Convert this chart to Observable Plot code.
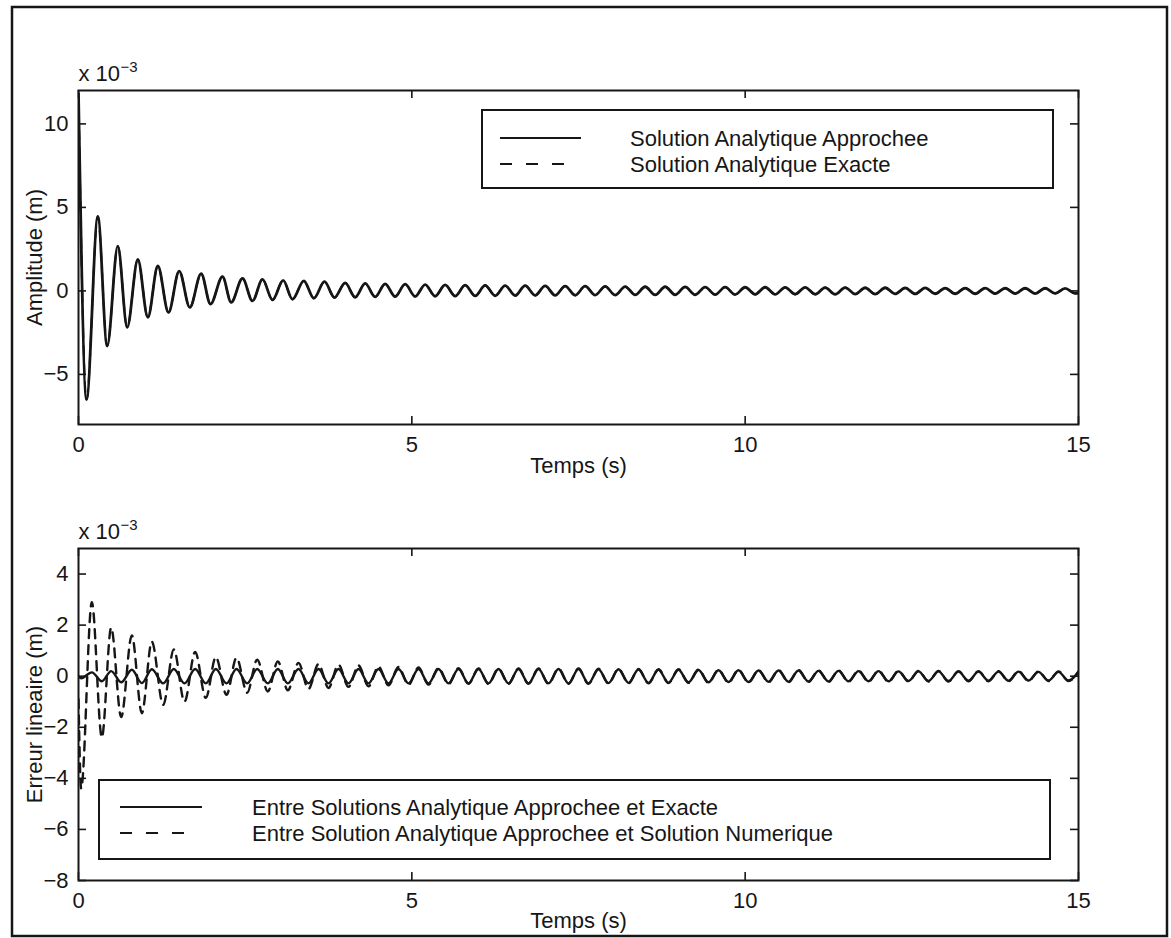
<!DOCTYPE html>
<html><head><meta charset="utf-8">
<script src="https://cdn.jsdelivr.net/npm/d3@7"></script>
<script src="https://cdn.jsdelivr.net/npm/@observablehq/plot@0.6"></script>
<style>
body{margin:0;background:#fff;}
#wrap{position:relative;width:1171px;height:938px;overflow:hidden;font-family:"Liberation Sans",Arial,sans-serif;}
#wrap svg{position:absolute;left:0;}
</style></head><body><div id="wrap"></div>
<script>
// ---------- data (values in x 10^-3 m) ----------
const xTicks = [0, 5, 10, 15];
const topYTicks = [-5, 0, 5, 10];
const botYTicks = [-8, -6, -4, -2, 0, 2, 4];

const topLegendLabels = ["Solution Analytique Approchee", "Solution Analytique Exacte"];
const botLegendLabels = ["Entre Solutions Analytique Approchee et Exacte", "Entre Solution Analytique Approchee et Solution Numerique"];

// extrema of the amplitude curve (time s, amplitude)
const topT = [0, 0.12, 0.29, 0.43, 0.59, 0.73, 0.89, 1.04, 1.19, 1.35, 1.51, 1.67, 1.84, 1.98, 2.16, 2.29, 2.46, 2.61, 2.76, 2.91, 3.07, 3.21, 3.38, 3.53, 3.69, 3.84, 4.0,
  4.15,4.3,4.45,4.6,4.75,4.9,5.05,5.2,5.35,5.5,5.65,5.8,5.95,6.1,6.25,6.4,6.55,6.7,6.85,7.0,7.15,7.3,7.45,7.6,7.75,7.9,8.05,8.2,8.35,8.5,8.65,8.8,8.95,9.1,9.25,9.4,9.55,9.7,9.85,10.0,10.15,10.3,10.45,10.6,10.75,10.9,11.05,11.2,11.35,11.5,11.65,11.8,11.95,12.1,12.25,12.4,12.55,12.7,12.85,13.0,13.15,13.3,13.45,13.6,13.75,13.9,14.05,14.2,14.35,14.5,14.65,14.8,14.95,15.0];
const topApproxY = [11.8, -6.5, 4.46, -3.3, 2.68, -2.18, 1.88, -1.59, 1.49, -1.29, 1.19, -0.99, 1.03, -0.79, 0.85, -0.69, 0.75, -0.6, 0.69, -0.54, 0.63, -0.5, 0.6, -0.44, 0.55, -0.4, 0.48,
  -0.38,0.45,-0.36,0.42,-0.34,0.40,-0.33,0.38,-0.32,0.36,-0.31,0.34,-0.30,0.33,-0.29,0.32,-0.28,0.31,-0.27,0.30,-0.27,0.29,-0.26,0.28,-0.25,0.27,-0.25,0.26,-0.24,0.25,-0.24,0.25,-0.23,0.24,-0.23,0.23,-0.22,0.23,-0.22,0.22,-0.21,0.22,-0.21,0.21,-0.2,0.21,-0.2,0.2,-0.2,0.2,-0.19,0.19,-0.19,0.19,-0.18,0.18,-0.18,0.18,-0.17,0.17,-0.17,0.17,-0.17,0.17,-0.16,0.16,-0.16,0.16,-0.16,0.16,-0.15,0.15,-0.15,-0.12];
const topExactY = topApproxY; // indistinguishable from the approximate curve in the picture

// extrema of the error curves (time s, error)
const botT = [0, 0.04, 0.2, 0.35, 0.49, 0.64, 0.8, 0.95, 1.1, 1.27, 1.43, 1.59, 1.75, 1.91, 2.06, 2.22, 2.37, 2.53, 2.68, 2.84, 2.99, 3.14,
  3.3,3.45,3.6,3.75,3.9,4.05,4.2,4.35,4.5,4.65,4.8,4.95,5.1,5.25,5.4,5.55,5.7,5.85,6.0,6.15,6.3,6.45,6.6,6.75,6.9,7.05,7.2,7.35,7.5,7.65,7.8,7.95,8.1,8.25,8.4,8.55,8.7,8.85,9.0,9.15,9.3,9.45,9.6,9.75,9.9,10.05,10.2,10.35,10.5,10.65,10.8,10.95,11.1,11.25,11.4,11.55,11.7,11.85,12.0,12.15,12.3,12.45,12.6,12.75,12.9,13.05,13.2,13.35,13.5,13.65,13.8,13.95,14.1,14.25,14.4,14.55,14.7,14.85,15.0];
const errExact = [0, -0.08, 0.15, -0.2, 0.2, -0.24, 0.25, -0.27, 0.27, -0.28, 0.28,
  -0.28,0.28,-0.28,0.28,-0.28,0.28,-0.28,0.28,-0.28,0.28,-0.28,0.28,-0.28,0.28,-0.28,0.28,-0.28,0.28,-0.28,0.28,
  -0.28,0.28,-0.28,0.28,-0.28,0.28,-0.28,0.28,-0.28,0.28,-0.28,0.28,-0.28,0.28,-0.28,0.28,-0.28,0.28,-0.28,0.28,
  -0.28,0.27,-0.27,0.27,
  -0.26,0.26,-0.26,0.25,-0.25,0.25,
  -0.24,0.24,-0.24,0.23,-0.23,0.23,-0.23,
  0.22,-0.22,0.22,-0.22,0.22,-0.21,0.21,
  -0.21,0.21,-0.2,0.2,-0.2,0.2,
  -0.2,0.19,-0.19,0.19,-0.19,0.19,-0.19,
  0.18,-0.18,0.18,-0.18,0.18,-0.18,0.18,
  -0.17,0.17,-0.17,0.17,-0.17,0.17];
const errNumeric = [-0.9, -4.4, 2.9, -2.4, 1.9, -1.6, 1.6, -1.45, 1.35, -1.12, 1.05, -1.0, 0.95, -0.85, 0.75, -0.73, 0.72, -0.65, 0.65, -0.6, 0.58, -0.55, 0.52, -0.5, 0.48, -0.46, 0.45, -0.42, 0.42, -0.4, 0.38, -0.36, 0.36, -0.34, 0.34, -0.33, 0.32, -0.31, 0.31, -0.3, 0.3,
  -0.3,0.3,-0.3,0.3,-0.3,0.3,-0.3,0.3,-0.3,0.3,
  -0.3,0.29,-0.29,0.29,
  -0.28,0.28,-0.28,0.27,-0.27,0.27,
  -0.26,0.26,-0.26,0.25,-0.25,0.25,-0.25,
  0.24,-0.24,0.24,-0.24,0.24,-0.23,0.23,
  -0.23,0.23,-0.22,0.22,-0.22,0.22,
  -0.22,0.21,-0.21,0.21,-0.21,0.21,-0.21,
  0.2,-0.2,0.2,-0.2,0.2,-0.2,0.2,
  -0.19,0.19,-0.19,0.19,-0.19,0.19];

// ---------- tables ----------
const topApprox = topT.map((t, i) => ({t, v: topApproxY[i]}));
const topExact = topT.map((t, i) => ({t, v: topExactY[i]}));
const botExact = botT.map((t, i) => ({t, v: errExact[i]}));
const botNum = botT.map((t, i) => ({t, v: errNumeric[i]}));

const W = 1171, ML = 78, MR = 93;
const FW = W - ML - MR;
const INK = "#161616";
const FONT = "'Liberation Sans', Arial, Helvetica, sans-serif";
const fmt = d => d < 0 ? "\u2212" + Math.abs(d) : String(d);

function panel({height, marginTop, marginBottom, yDomain, yTicks, series, ylabel, labelDy}) {
  const FH = height - marginTop - marginBottom;
  return Plot.plot({
    width: W, height, marginLeft: ML, marginRight: MR, marginTop, marginBottom,
    style: {fontFamily: FONT, fontSize: "22px", color: INK, background: "transparent", overflow: "visible"},
    x: {domain: [0, 15]},
    y: {domain: yDomain},
    marks: [
      Plot.axisX(xTicks, {tickSize: 0, tickPadding: 12, tickFormat: fmt, label: null, fill: INK}),
      Plot.axisY(yTicks, {tickSize: 0, tickPadding: 10, tickFormat: fmt, label: null, fill: INK}),
      Plot.tickX(xTicks, {x: d => d, insetTop: FH - 8, stroke: INK, strokeWidth: 1.6}),
      Plot.tickX(xTicks, {x: d => d, insetBottom: FH - 8, stroke: INK, strokeWidth: 1.6}),
      Plot.tickY(yTicks, {y: d => d, insetRight: FW - 8, stroke: INK, strokeWidth: 1.6}),
      Plot.tickY(yTicks, {y: d => d, insetLeft: FW - 8, stroke: INK, strokeWidth: 1.6}),
      ...series.map(s => Plot.line(s.data, {x: "t", y: "v", curve: "monotone-x", stroke: INK, strokeWidth: s.w, strokeDasharray: s.dash, clip: true})),
      Plot.frame({stroke: INK, strokeWidth: 2}),
      Plot.text(["Temps (s)"], {frameAnchor: "bottom", dy: labelDy, text: d => d, textAnchor: "middle", fill: INK, fontSize: 22}),
      Plot.text([ylabel], {frameAnchor: "left", dx: -44, rotate: -90, text: d => d, textAnchor: "middle", fill: INK, fontSize: 22}),
      Plot.text(["x 10"], {frameAnchor: "top-left", dy: -10, textAnchor: "start", lineAnchor: "bottom", text: d => d, fill: INK, fontSize: 22}),
      Plot.text(["\u22123"], {frameAnchor: "top-left", dx: 42, dy: -19, textAnchor: "start", lineAnchor: "bottom", text: d => d, fill: INK, fontSize: 15})
    ]
  });
}

const topPlot = panel({height: 484, marginTop: 90, marginBottom: 60, yDomain: [-8, 12], yTicks: topYTicks, ylabel: "Amplitude (m)", labelDy: 48,
  series: [{data: topApprox, w: 2.8, dash: null}, {data: topExact, w: 2, dash: "10,8"}]});
const botPlot = panel({height: 454, marginTop: 64, marginBottom: 58, yDomain: [-8, 5], yTicks: botYTicks, ylabel: "Erreur lineaire (m)", labelDy: 47,
  series: [{data: botExact, w: 2.4, dash: null}, {data: botNum, w: 2.4, dash: "9,7"}]});

const wrap = document.getElementById("wrap");
topPlot.style.top = "0px";
botPlot.style.top = "484px";
wrap.appendChild(topPlot);
wrap.appendChild(botPlot);

// ---------- overlay: page border and legends ----------
const ov = d3.create("svg").attr("width", W).attr("height", 938).style("top", "0px");
ov.append("rect").attr("x", 12).attr("y", 7).attr("width", 1155).attr("height", 929)
  .attr("fill", "none").attr("stroke", INK).attr("stroke-width", 2.5);

function legend(box, labels, rows) {
  const g = ov.append("g");
  g.append("rect").attr("x", box.x).attr("y", box.y).attr("width", box.w).attr("height", box.h)
    .attr("fill", "white").attr("stroke", INK).attr("stroke-width", 2);
  labels.forEach((lab, i) => {
    const r = rows[i];
    g.append("line").attr("x1", r.x1).attr("x2", r.x2).attr("y1", r.y).attr("y2", r.y)
      .attr("stroke", INK).attr("stroke-width", 2).attr("stroke-dasharray", r.dash);
    g.append("text").attr("x", box.tx).attr("y", r.y).attr("dy", "0.35em")
      .attr("font-family", FONT).attr("font-size", 22).attr("fill", INK).text(lab);
  });
}
legend({x: 482, y: 110, w: 571, h: 78, tx: 630}, topLegendLabels,
  [{x1: 500, x2: 581, y: 138, dash: null}, {x1: 500, x2: 567, y: 164, dash: "12,14"}]);
legend({x: 99, y: 780, w: 951, h: 79, tx: 252}, botLegendLabels,
  [{x1: 120, x2: 202, y: 807, dash: null}, {x1: 120, x2: 190, y: 833, dash: "12,14"}]);

wrap.appendChild(ov.node());
</script>
</body></html>
